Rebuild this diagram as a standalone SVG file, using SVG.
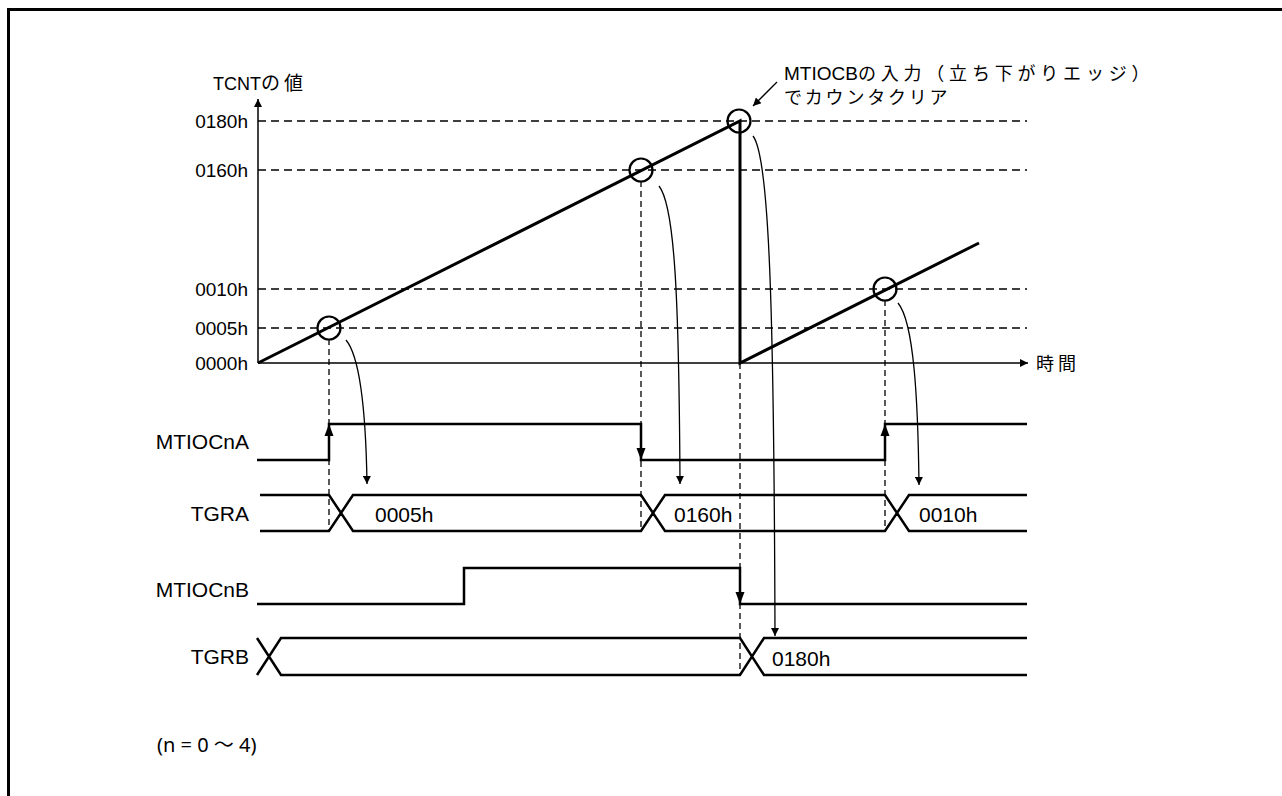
<svg xmlns="http://www.w3.org/2000/svg" width="1282" height="796" viewBox="0 0 1282 796">
<defs>
<style>
.t{font-family:"Liberation Sans","Noto Sans CJK JP",sans-serif;fill:#000}
.ax{font-size:18px}
.yl{font-size:19px}
.sig{font-size:21px}
.cj{font-family:"Noto Sans CJK JP",sans-serif}
.grid{stroke:#000;stroke-width:1.3;stroke-dasharray:8 5;fill:none}
.vd{stroke:#000;stroke-width:1.3;stroke-dasharray:6 4;fill:none}
.thick{stroke:#000;stroke-width:3;fill:none}
.wave{stroke:#000;stroke-width:2.5;fill:none;stroke-linejoin:miter}
.thin{stroke:#000;stroke-width:1.3;fill:none}
.ring{stroke:#000;stroke-width:2.2;fill:none}
</style>
<marker id="ah" viewBox="0 0 10 10" refX="10" refY="5" markerWidth="10" markerHeight="8" markerUnits="userSpaceOnUse" orient="auto"><path d="M0,0 L10,5 L0,10 Z" fill="#000"/></marker>
<marker id="ahs" viewBox="0 0 10 10" refX="10" refY="5" markerWidth="11" markerHeight="8" markerUnits="userSpaceOnUse" orient="auto"><path d="M0,0 L10,5 L0,10 Z" fill="#000"/></marker>
</defs>
<rect width="1282" height="796" fill="#fff"/>
<path d="M8.5,796 V9.5 H1282" stroke="#000" stroke-width="3" fill="none"/>

<g id="grid">
<line class="grid" x1="258" y1="121" x2="1027" y2="121"/>
<line class="grid" x1="258" y1="170" x2="1027" y2="170"/>
<line class="grid" x1="258" y1="289" x2="1027" y2="289"/>
<line class="grid" x1="258" y1="328" x2="1027" y2="328"/>
<line class="vd" x1="329" y1="339" x2="329" y2="530"/>
<line class="vd" x1="641" y1="181" x2="641" y2="530"/>
<line class="vd" x1="740" y1="363" x2="740" y2="675"/>
<line class="vd" x1="885" y1="300" x2="885" y2="530"/>
</g>

<g id="axes">
<line x1="258" y1="363" x2="258" y2="99" stroke="#000" stroke-width="1.5" marker-end="url(#ahs)"/>
<line x1="258" y1="363" x2="1028" y2="363" stroke="#000" stroke-width="1.5" marker-end="url(#ahs)"/>
<text class="t ax" x="213" y="90">TCNT<tspan class="cj" font-size="19" letter-spacing="4">の値</tspan></text>
<text class="t ax cj" x="1036" y="370" letter-spacing="4">時間</text>
<g class="t yl" text-anchor="end">
<text x="248" y="128">0180h</text>
<text x="248" y="177">0160h</text>
<text x="248" y="296">0010h</text>
<text x="248" y="335">0005h</text>
<text x="248" y="370">0000h</text>
</g>
</g>

<g id="tcnt">
<polyline class="thick" points="258,363 740,121 740,363 979,243"/>
<circle class="ring" cx="329" cy="328" r="11.5"/>
<circle class="ring" cx="641" cy="170" r="11.5"/>
<circle class="ring" cx="739" cy="121" r="11.5"/>
<circle class="ring" cx="885" cy="289" r="11.5"/>
</g>

<g id="note">
<text class="t" font-size="19" x="784" y="80">MTIOCB<tspan class="cj" font-size="18" letter-spacing="4.8">の入力（立ち下がりエッジ）</tspan></text>
<text class="t cj" font-size="18" x="784" y="104" letter-spacing="2.8">でカウンタクリア</text>
</g>

<g id="labels" class="t sig" text-anchor="end">
<text x="249" y="449">MTIOCnA</text>
<text x="249" y="521">TGRA</text>
<text x="249" y="597">MTIOCnB</text>
<text x="249" y="664">TGRB</text>
</g>

<g id="MTIOCnA">
<polyline class="wave" points="257,460 329,460 329,424 641,424 641,460 885,460 885,424 1027,424"/>
<path d="M324.5,436 L329,424 L333.5,436 Z"/>
<path d="M636.5,448 L641,460 L645.5,448 Z"/>
<path d="M880.5,436 L885,424 L889.5,436 Z"/>
</g>

<g id="TGRA">
<path class="wave" d="M260,495 H329 L353,531 H641 L665,495 H885 L909,531 H1027 M260,531 H329 L353,495 H641 L665,531 H885 L909,495 H1027"/>
<text class="t sig" x="375" y="522">0005h</text>
<text class="t sig" x="674" y="522">0160h</text>
<text class="t sig" x="919" y="522">0010h</text>
</g>

<g id="MTIOCnB">
<polyline class="wave" points="257,604 464,604 464,568 740,568 740,604 1027,604"/>
<path d="M735.5,592 L740,604 L744.5,592 Z"/>
</g>

<g id="TGRB">
<path class="wave" d="M257,638 L281,675 H740 L764,638 H1027 M257,675 L281,638 H740 L764,675 H1027"/>
<text class="t sig" x="772" y="666">0180h</text>
</g>

<g id="connectors">
<path class="thin" d="M346,340 C361,358 366,420 367,484" marker-end="url(#ah)"/>
<path class="thin" d="M659,186 C675,206 679,300 680,484" marker-end="url(#ah)"/>
<path class="thin" d="M753,136 C769,156 774,300 775,636" marker-end="url(#ah)"/>
<path class="thin" d="M898,303 C914,322 918,400 919,485" marker-end="url(#ah)"/>
<line class="thin" x1="777" y1="82" x2="753" y2="106" marker-end="url(#ah)"/>
</g>

<text x="157" y="752" font-size="20" font-family="'Noto Sans','Noto Sans CJK JP',sans-serif">(n = 0 〜 4)</text>
</svg>
